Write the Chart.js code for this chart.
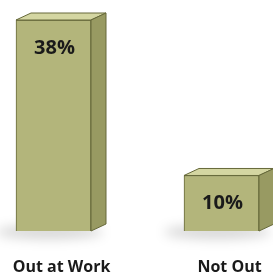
<!DOCTYPE html>
<html>
<head>
<meta charset="utf-8">
<script src="https://cdn.jsdelivr.net/npm/chart.js@4/dist/chart.umd.min.js"></script>
<style>
  html, body { margin: 0; padding: 0; background: #ffffff; }
  #wrap { width: 273px; height: 276px; position: relative; }
</style>
</head>
<body>
<div id="wrap"><canvas id="c" width="273" height="276"></canvas></div>
<script>
const categories = ['Out at Work', 'Not Out'];
const values = [38, 10];
const valueLabels = ['38%', '10%'];

const FRONT = '#b3b57b';
const TOP = '#d4d6a2';
const SIDE = '#989a62';
const EDGE = '#66693a';
const DX = 15, DY = 7;

const shadowPlugin = {
  id: 'shadow',
  beforeDatasetsDraw(chart) {
    const ctx = chart.ctx;
    const meta = chart.getDatasetMeta(0);
    ctx.save();
    ctx.filter = 'blur(6px)';
    meta.data.forEach(el => {
      const p = el.getProps(['x', 'base', 'width'], true);
      ctx.fillStyle = 'rgba(0,0,0,0.16)';
      ctx.beginPath();
      ctx.ellipse(p.x - 4, p.base + 1, p.width / 2 + 16, 7, 0, 0, Math.PI * 2);
      ctx.fill();
    });
    ctx.restore();
  }
};

const boxPlugin = {
  id: 'box3d',
  afterDatasetsDraw(chart) {
    const ctx = chart.ctx;
    const meta = chart.getDatasetMeta(0);
    ctx.save();
    ctx.lineWidth = 1;
    ctx.strokeStyle = EDGE;
    ctx.lineJoin = 'round';
    meta.data.forEach((el, i) => {
      const p = el.getProps(['x', 'y', 'base', 'width'], true);
      const l = p.x - p.width / 2, r = p.x + p.width / 2;
      const t = p.y, b = p.base;
      ctx.fillStyle = TOP;
      ctx.beginPath();
      ctx.moveTo(l, t); ctx.lineTo(l + DX, t - DY); ctx.lineTo(r + DX, t - DY); ctx.lineTo(r, t); ctx.closePath();
      ctx.fill(); ctx.stroke();
      ctx.fillStyle = SIDE;
      ctx.beginPath();
      ctx.moveTo(r, t); ctx.lineTo(r + DX, t - DY); ctx.lineTo(r + DX, b - DY); ctx.lineTo(r, b); ctx.closePath();
      ctx.fill(); ctx.stroke();
      ctx.fillStyle = '#1a1a1a';
      ctx.font = 'bold 20px "Open Sans"';
      ctx.textAlign = 'center';
      ctx.textBaseline = 'middle';
      ctx.fillText(valueLabels[i], p.x + 1, t + 28);
    });
    ctx.restore();
  }
};

new Chart(document.getElementById('c'), {
  type: 'bar',
  data: {
    labels: categories,
    datasets: [{
      data: values,
      backgroundColor: FRONT,
      borderColor: EDGE,
      borderWidth: 1,
      barThickness: 75,
      clip: false
    }]
  },
  options: {
    responsive: false,
    animation: false,
    events: [],
    layout: { padding: { left: 53.5, right: 51.5, top: 20, bottom: 0 } },
    plugins: { legend: { display: false }, tooltip: { enabled: false } },
    scales: {
      x: {
        type: 'category',
        offset: false,
        grid: { display: false },
        border: { display: false },
        ticks: {
          color: '#1a1a1a',
          font: { family: 'Open Sans', size: 16, weight: 'bold' },
          padding: 19,
          labelOffset: 8,
          maxRotation: 0,
          autoSkip: false
        },
        afterFit(scale) {
          scale.height = 45;
          scale.paddingLeft = 0;
          scale.paddingRight = 0;
          scale.paddingTop = 0;
          scale.paddingBottom = 0;
        }
      },
      y: {
        display: false,
        min: 0,
        max: 38
      }
    }
  },
  plugins: [shadowPlugin, boxPlugin]
});
</script>
</body>
</html>
